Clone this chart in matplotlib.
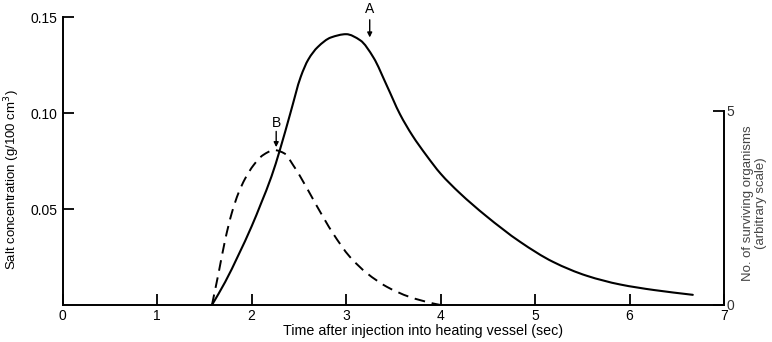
import matplotlib
matplotlib.use("Agg")
import matplotlib.pyplot as plt
from matplotlib.path import Path
from matplotlib.patches import PathPatch
import numpy as np

plt.rcParams['font.family'] = ['Liberation Sans', 'DejaVu Sans']

# Salt concentration (solid line, left axis, g/100 cm^3)
salt_t = [1.58, 1.72, 1.86, 2.00, 2.10, 2.21, 2.30, 2.41, 2.52, 2.60, 2.70, 2.84,
          3.00, 3.15, 3.29, 3.43, 3.57, 3.70, 3.85, 4.00, 4.20, 4.48, 4.84, 5.19,
          5.55, 5.90, 6.26, 6.67]
salt_c = [0.0, 0.012, 0.026, 0.041, 0.053, 0.067, 0.081, 0.100, 0.119, 0.128, 0.1345, 0.1395,
          0.1412, 0.138, 0.129, 0.1145, 0.0995, 0.0885, 0.078, 0.0685, 0.0585, 0.0465, 0.033,
          0.0225, 0.0152, 0.0107, 0.0078, 0.0053]

# Surviving organisms (dashed line, right axis, arbitrary scale)
surv_t = [1.58, 1.65, 1.72, 1.79, 1.86, 1.93, 2.02, 2.12, 2.24, 2.35, 2.44, 2.51, 2.69,
          2.86, 3.04, 3.22, 3.43, 3.67, 3.92, 4.00]
surv_n = [0.0, 0.82, 1.68, 2.37, 2.88, 3.25, 3.60, 3.86, 3.99, 3.90, 3.60, 3.33, 2.55,
          1.85, 1.24, 0.82, 0.47, 0.21, 0.04, 0.0]

x_ticks = [0, 1, 2, 3, 4, 5, 6, 7]
y_ticks = [0.05, 0.10, 0.15]
y_tick_labels = ['0.05', '0.10', '0.15']
r_ticks = [0, 5]


def smooth_path(xs, ys):
    """Monotone cubic Hermite through the given points, as a Bezier path."""
    x = np.asarray(xs, float)
    y = np.asarray(ys, float)
    h = np.diff(x)
    d = np.diff(y) / h
    n = len(x)
    m = np.zeros(n)
    m[0], m[-1] = d[0], d[-1]
    for i in range(1, n - 1):
        if d[i - 1] * d[i] <= 0:
            m[i] = 0.0
        else:
            w1 = 2 * h[i] + h[i - 1]
            w2 = h[i] + 2 * h[i - 1]
            m[i] = (w1 + w2) / (w1 / d[i - 1] + w2 / d[i])
    verts = [(x[0], y[0])]
    codes = [Path.MOVETO]
    for i in range(n - 1):
        verts += [(x[i] + h[i] / 3, y[i] + m[i] * h[i] / 3),
                  (x[i + 1] - h[i] / 3, y[i + 1] - m[i + 1] * h[i] / 3),
                  (x[i + 1], y[i + 1])]
        codes += [Path.CURVE4] * 3
    return Path(verts, codes)


fig = plt.figure(figsize=(7.72, 3.42), dpi=100)
ax = fig.add_axes([0.0812, 0.1082, 0.8566, 0.8412])
ax.set_xlim(0, 7)
ax.set_ylim(0, 0.15)

ax.add_patch(PathPatch(smooth_path(salt_t, salt_c), fill=False, edgecolor='black',
                       lw=1.5, capstyle='round'))

ax2 = ax.twinx()
ax2.set_ylim(0, 7.41)
ax2.add_patch(PathPatch(smooth_path(surv_t, surv_n), fill=False, edgecolor='black',
                        lw=1.4, linestyle=(0, (5.5, 3.5))))

for a in (ax, ax2):
    a.spines['top'].set_visible(False)
    a.patch.set_visible(False)
ax.spines['right'].set_visible(False)
ax2.spines['left'].set_visible(False)
ax2.spines['bottom'].set_visible(False)
ax2.spines['right'].set_bounds(0, 5)
for s in ('left', 'bottom'):
    ax.spines[s].set_linewidth(1.4)
ax2.spines['right'].set_linewidth(1.4)

ax.set_xticks(x_ticks)
ax.set_xticklabels([str(v) for v in x_ticks])
ax.set_yticks(y_ticks)
ax.set_yticklabels(y_tick_labels)
ax.tick_params(axis='both', direction='in', length=8, width=1.3, labelsize=10, pad=4)
ax.tick_params(axis='x', pad=3)

ax2.set_yticks(r_ticks)
ax2.set_yticklabels([str(v) for v in r_ticks])
ax2.tick_params(axis='y', direction='in', length=8, width=1.3, labelsize=10, pad=2)
for t in ax2.get_yticklabels():
    t.set_color('#333333')

ax.set_xlabel('Time after injection into heating vessel (sec)', fontsize=10.3)
ax.xaxis.set_label_coords(0.545, -0.066)
ax.set_ylabel('Salt concentration (g/100 cm$^3$)', fontsize=9.5)
ax.yaxis.set_label_coords(-0.062, 0.434)
ax2.set_ylabel('No. of surviving organisms\n(arbitrary scale)', fontsize=9.5,
               color='#444444', linespacing=1.1)
ax2.yaxis.set_label_coords(1.028, 0.354)

# Annotations
arrow = dict(arrowstyle='-|>', color='black', lw=1.0, mutation_scale=7, shrinkA=0, shrinkB=0)
ax.annotate('', xy=(3.25, 0.1395), xytext=(3.25, 0.1487), arrowprops=arrow, annotation_clip=False)
ax.text(3.25, 0.1505, 'A', ha='center', va='bottom', fontsize=10, clip_on=False)
ax.annotate('', xy=(2.26, 0.0823), xytext=(2.26, 0.0905), arrowprops=arrow)
ax.text(2.26, 0.0915, 'B', ha='center', va='bottom', fontsize=10)

fig.savefig('out.png', dpi=100)
